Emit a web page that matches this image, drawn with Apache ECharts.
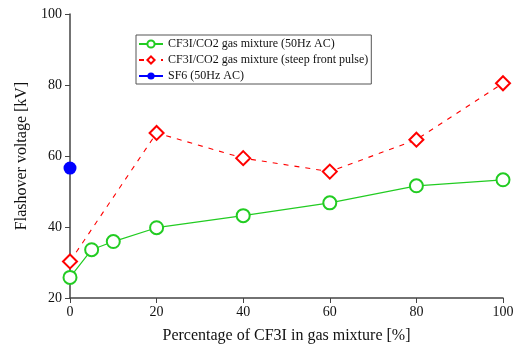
<!DOCTYPE html>
<html>
<head>
<meta charset="utf-8">
<script src="https://cdn.jsdelivr.net/npm/echarts@6/dist/echarts.min.js"></script>
<style>
  html, body { margin: 0; padding: 0; background: #fff; }
  #chart { width: 517px; height: 349px; }
</style>
</head>
<body>
<div id="chart"></div>
<script>
// 数据
const acX = [0, 5, 10, 20, 40, 60, 80, 100];
const acY = [25.8, 33.6, 35.9, 39.8, 43.2, 46.8, 51.6, 53.3];
const pulseX = [0, 20, 40, 60, 80, 100];
const pulseY = [30.3, 66.5, 59.4, 55.6, 64.6, 80.5];
const sf6X = [0];
const sf6Y = [56.6];
const seriesNames = [
  'CF3I/CO2 gas mixture (50Hz AC)',
  'CF3I/CO2 gas mixture (steep front pulse)',
  'SF6 (50Hz AC)'
];

const zip = (xs, ys) => xs.map((x, i) => [x, ys[i]]);
const font = 'Liberation Serif';
const axisColor = '#444';

const myChart = echarts.init(document.getElementById('chart'));
const option = {
  animation: false,
  textStyle: {fontFamily: font},
  grid: {left: 70, right: 14, top: 14, bottom: 50},
  legend: {
    orient: 'vertical',
    left: 136,
    top: 35,
    itemWidth: 24,
    itemHeight: 9,
    itemGap: 4,
    padding: [3, 3, 2, 2],
    borderColor: '#555',
    borderWidth: 1,
    textStyle: {fontFamily: font, fontSize: 12, color: '#111'},
    data: seriesNames
  },
  xAxis: {
    type: 'value',
    min: 0,
    max: 100,
    interval: 20,
    name: 'Percentage of CF3I in gas mixture [%]',
    nameLocation: 'middle',
    nameGap: 30,
    nameTextStyle: {fontFamily: font, fontSize: 16, color: '#111'},
    axisLine: {show: true, onZero: false, lineStyle: {color: axisColor, width: 1.5}},
    axisTick: {show: true, length: 5, lineStyle: {color: axisColor}},
    axisLabel: {fontFamily: font, fontSize: 14, color: '#111', margin: 7},
    splitLine: {show: false}
  },
  yAxis: {
    type: 'value',
    min: 20,
    max: 100,
    interval: 20,
    name: 'Flashover voltage [kV]',
    nameLocation: 'middle',
    nameGap: 37,
    nameTextStyle: {fontFamily: font, fontSize: 16, color: '#111'},
    axisLine: {show: true, onZero: false, lineStyle: {color: axisColor, width: 1.5}},
    axisTick: {show: true, length: 5, lineStyle: {color: axisColor}},
    axisLabel: {fontFamily: font, fontSize: 14, color: '#111', margin: 8},
    splitLine: {show: false}
  },
  series: [
    {
      name: seriesNames[0],
      type: 'line',
      data: zip(acX, acY),
      symbol: 'emptyCircle',
      symbolSize: 13,
      color: '#22cc22',
      lineStyle: {width: 1.2, color: '#22cc22'},
      itemStyle: {color: '#22cc22', borderWidth: 1}
    },
    {
      name: seriesNames[1],
      type: 'line',
      data: zip(pulseX, pulseY),
      symbol: 'emptyDiamond',
      symbolSize: 14,
      color: '#ff0000',
      lineStyle: {width: 1.1, color: '#ff0000', type: [5, 6]},
      itemStyle: {color: '#ff0000', borderWidth: 1}
    },
    {
      name: seriesNames[2],
      type: 'line',
      data: zip(sf6X, sf6Y),
      symbol: 'circle',
      symbolSize: 13,
      color: '#0000ff',
      lineStyle: {width: 1.2, color: '#0000ff'},
      itemStyle: {color: '#0000ff'},
      z: 5
    }
  ]
};
myChart.setOption(option);
</script>
</body>
</html>
